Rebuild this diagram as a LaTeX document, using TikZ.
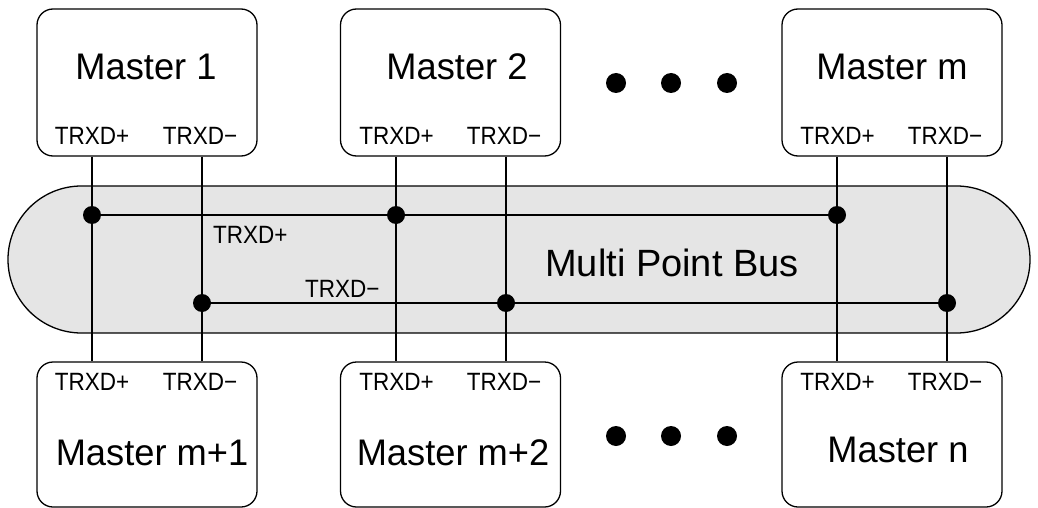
\documentclass[tikz,border=0pt]{standalone}
\usepackage{fontspec}
\setmainfont{Liberation Sans}
\newfontfamily\pinfont[FakeStretch=0.9]{Liberation Sans}
\newfontfamily\titlefont[FakeStretch=0.98]{Liberation Sans}
\usetikzlibrary{shapes.misc}
\begin{document}
\begin{tikzpicture}[x=1pt,y=-1pt,
  box/.style={draw, line width=1.3pt, rounded corners=16pt, minimum width=220pt, inner sep=0pt},
  bus/.style={draw, line width=1.3pt, fill=gray!20, rounded rectangle, minimum width=1022pt, minimum height=147pt, inner sep=0pt},
  big/.style={font=\titlefont\fontsize{37}{42}\selectfont, inner sep=0pt, anchor=base},
  small/.style={font=\pinfont\fontsize{25}{29}\selectfont, inner sep=0pt, anchor=base},
  wire/.style={line width=2pt},
  joint/.style={circle, fill, inner sep=0pt, minimum size=18pt},
  etc/.style={circle, fill, inner sep=0pt, minimum size=20pt}]
\useasboundingbox (0,0) rectangle (1038,508);

% shared bus
\node[bus] (bus) at (519,259.5) {};
\node[big, font=\fontsize{38}{43}\selectfont] (buslabel) at (672,276) {Multi Point Bus};
\node[small, anchor=base west] (lplus) at (213,243) {TRXD+};
\node[small, anchor=base west] (lminus) at (305,297) {TRXD−};

% masters above the bus
\node[box, minimum height=147pt] (m1) at (147,82.5) {};
\node[box, minimum height=147pt] (m2) at (450.5,82.5) {};
\node[box, minimum height=147pt] (mm) at (892,82.5) {};
% masters below the bus
\node[box, minimum height=145pt] (b1) at (147,434.5) {};
\node[box, minimum height=145pt] (b2) at (450.5,434.5) {};
\node[box, minimum height=145pt] (bn) at (892,434.5) {};

% bus junctions
\node[joint] (j1) at (92,215) {};
\node[joint] (j2) at (396,215) {};
\node[joint] (j3) at (837,215) {};
\node[joint] (k1) at (202,303) {};
\node[joint] (k2) at (506,303) {};
\node[joint] (k3) at (947,303) {};

% bus lines
\draw[wire] (j1.center) -- (j3.center);
\draw[wire] (k1.center) -- (k3.center);

% drops from each master through the bus
\draw[wire] (m1.south -| j1) -- (b1.north -| j1);
\draw[wire] (m1.south -| k1) -- (b1.north -| k1);
\draw[wire] (m2.south -| j2) -- (b2.north -| j2);
\draw[wire] (m2.south -| k2) -- (b2.north -| k2);
\draw[wire] (mm.south -| j3) -- (bn.north -| j3);
\draw[wire] (mm.south -| k3) -- (bn.north -| k3);

% box titles
\node[big] (t1) at (146,80) {Master 1};
\node[big] (t2) at (457,80) {Master 2};
\node[big] (tm) at (892,80) {Master m};
\node[big] (u1) at (152,465) {Master m+1};
\node[big] (u2) at (453,465) {Master m+2};
\node[big] (un) at (898,462) {Master n};

% pin labels
\node[small] at (92,144) {TRXD+};
\node[small] at (200,144) {TRXD−};
\node[small] at (396.5,144) {TRXD+};
\node[small] at (504,144) {TRXD−};
\node[small] at (837.5,144) {TRXD+};
\node[small] at (945,144) {TRXD−};
\node[small] at (92,390) {TRXD+};
\node[small] at (200,390) {TRXD−};
\node[small] at (396.5,390) {TRXD+};
\node[small] at (504,390) {TRXD−};
\node[small] at (837.5,390) {TRXD+};
\node[small] at (945,390) {TRXD−};

% ellipsis between masters
\node[etc] (e1) at (616,83) {};
\node[etc] (e2) at (671,83) {};
\node[etc] (e3) at (727,83) {};
\node[etc] (f1) at (616,436) {};
\node[etc] (f2) at (671,436) {};
\node[etc] (f3) at (727,436) {};
\end{tikzpicture}
\end{document}
